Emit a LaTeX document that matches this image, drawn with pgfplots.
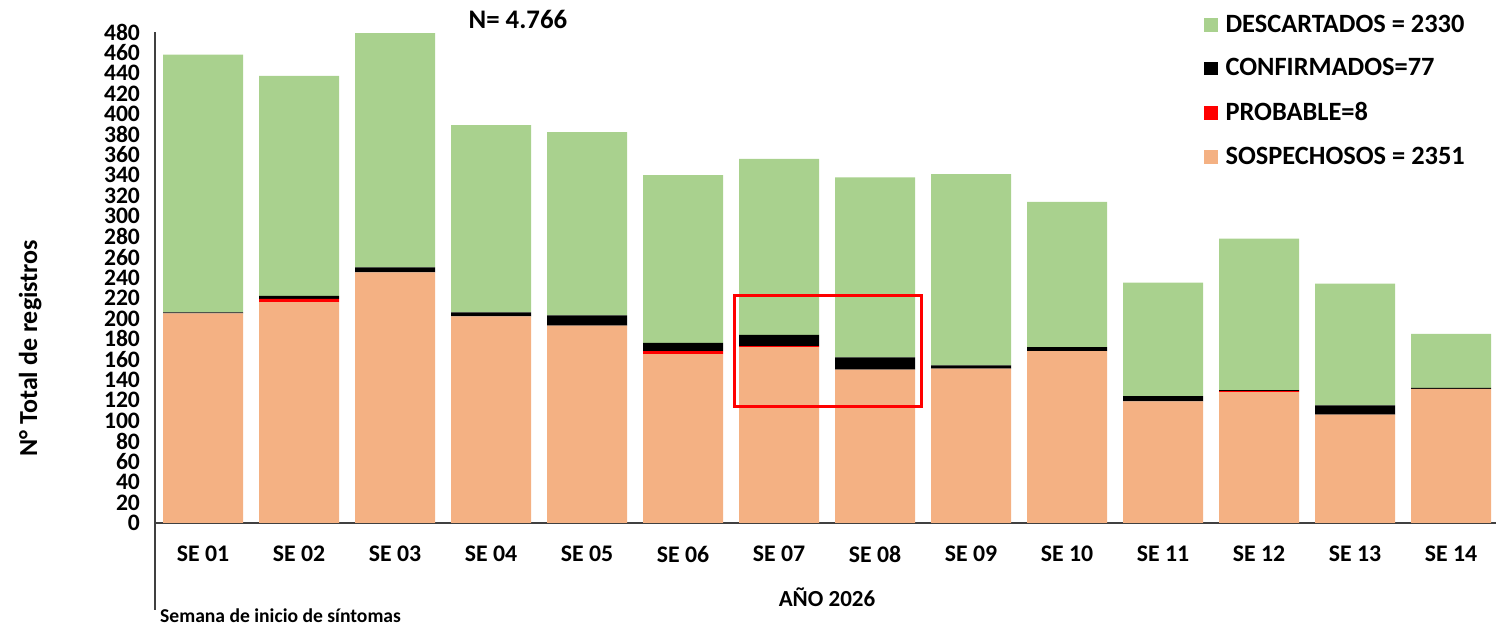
\documentclass[border=0pt]{standalone}
\usepackage{fontspec}
\setmainfont{Carlito}
\usepackage{pgfplots}
\usepackage{pgfplotstable}
\pgfplotsset{compat=1.18}

\definecolor{descart}{HTML}{A9D18E}
\definecolor{sospech}{HTML}{F4B183}

% semana, sospechosos, probable, confirmados, descartados
\pgfplotstableread{
x  sosp prob conf desc
0  205  0    1    252
1  216  3    3    215
2  245  0    5    229
3  202  0    4    183
4  193  0    10   179
5  165  3    8    164
6  172  1    11   172
7  150  0    12   176
8  151  0    3    187
9  168  0    4    142
10 119  0    5    111
11 128  1    1    148
12 106  0    9    119
13 131  0    1    53
}\semanas

\begin{document}
\begin{tikzpicture}
\begin{axis}[
    name=ax,
    scale only axis,
    width=672pt,
    height=245.5pt,
    ybar stacked,
    bar width=40pt,
    xmin=-0.5, xmax=13.5,
    ymin=0, ymax=480,
    ytick distance=20,
    xtick={0,...,13},
    xticklabels={SE 01,SE 02,SE 03,SE 04,SE 05,SE 06,SE 07,SE 08,SE 09,SE 10,SE 11,SE 12,SE 13,SE 14},
    major tick length=0pt,
    axis x line=bottom,
    axis y line=left,
    axis line style={-, black!75, line width=0.8pt},
    /pgf/number format/assume math mode=true,
    yticklabel style={font=\fontsize{11.8}{13}\selectfont\bfseries, inner ysep=0.3pt, xshift=-4pt},
    xticklabel style={font=\fontsize{11.9}{13}\selectfont\bfseries, yshift=-8pt},
    clip=false,
    reverse legend,
    legend style={draw=none, fill=none, at={(rel axis cs:0.776,1.052)}, anchor=north west,
        font=\fontsize{13.2}{15}\selectfont\bfseries, row sep=7.7pt,
        /tikz/every odd column/.append style={column sep=2pt}},
    legend cell align={left},
    legend image code/.code={\fill[#1] (0pt,-3.3pt) rectangle (6.6pt,3.3pt);},
]
\addplot[fill=sospech, draw=none] table[x=x, y=sosp] {\semanas};
\addlegendentry{SOSPECHOSOS = 2351}
\addplot[fill=red, draw=none] table[x=x, y=prob] {\semanas};
\addlegendentry{PROBABLE=8}
\addplot[fill=black, draw=none] table[x=x, y=conf] {\semanas};
\addlegendentry{CONFIRMADOS=77}
\addplot[fill=descart, draw=none] table[x=x, y=desc] {\semanas};
\addlegendentry{DESCARTADOS = 2330}

% esquinas del recuadro rojo SE 07 - SE 08 y del separador
\coordinate (r1) at (axis cs:5.54,113.4);
\coordinate (r2) at (axis cs:7.48,222);
\coordinate (s1) at (axis cs:-0.5,0);
\coordinate (s2) at (axis cs:-0.5,-85);

\node[font=\fontsize{13.4}{15}\selectfont\bfseries] at (axis cs:3.28,492) {N= 4.766};
\node[font=\fontsize{11.5}{13}\selectfont\bfseries] at (axis cs:6.5,-73) {AÑO 2026};
\node[font=\fontsize{9.8}{11}\selectfont\bfseries, anchor=west, inner sep=0pt] at (axis cs:-0.45,-90.5) {Semana de inicio de síntomas};
\node[font=\fontsize{13}{15}\selectfont\bfseries, rotate=90] at (axis cs:-1.80,171) {N°  Total de registros};
\end{axis}
\draw[red, line width=1.5pt] (r1) rectangle (r2);
\draw[black!75, line width=0.8pt] (s1) -- (s2);
\pgfresetboundingbox
\path[use as bounding box] ([xshift=-77.5pt,yshift=-51pt]ax.south west) rectangle ([xshift=-1.5pt,yshift=16pt]ax.north east);
\end{tikzpicture}
\end{document}
